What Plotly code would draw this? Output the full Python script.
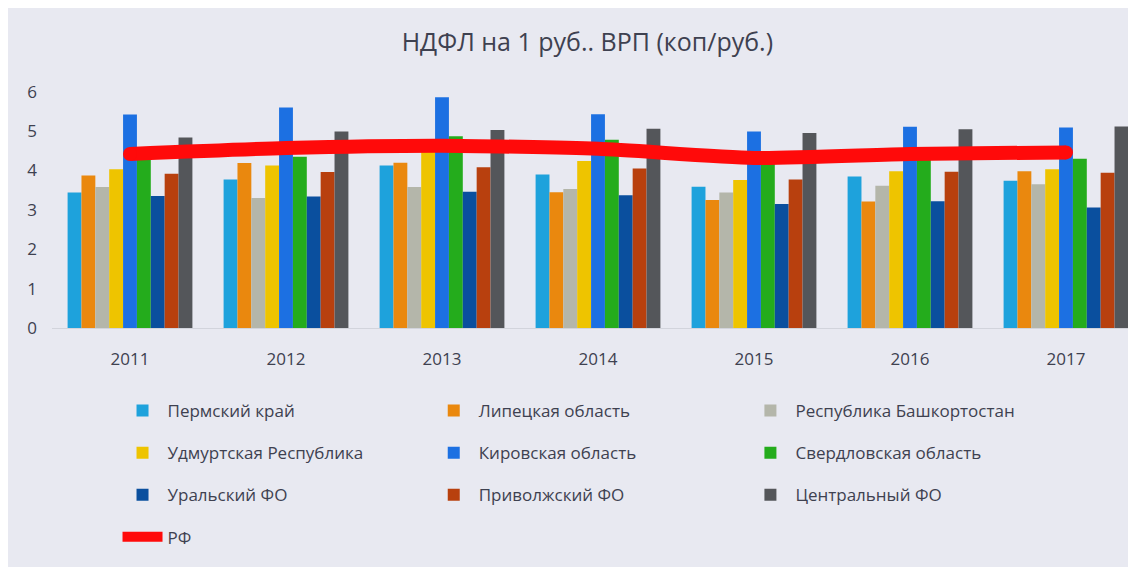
import plotly.graph_objects as go

# НДФЛ на 1 руб. ВРП, коп/руб.
years = ['2011', '2012', '2013', '2014', '2015', '2016', '2017']

perm = [3.44, 3.77, 4.13, 3.90, 3.59, 3.85, 3.74]
lipetsk = [3.87, 4.19, 4.20, 3.45, 3.25, 3.21, 3.98]
bashkort = [3.58, 3.30, 3.58, 3.53, 3.44, 3.61, 3.65]
udmurt = [4.03, 4.13, 4.75, 4.24, 3.76, 3.98, 4.03]
kirov = [5.42, 5.60, 5.86, 5.43, 4.99, 5.11, 5.09]
sverdl = [4.30, 4.35, 4.87, 4.78, 4.20, 4.30, 4.30]
ural = [3.35, 3.34, 3.46, 3.37, 3.15, 3.22, 3.06]
privolzh = [3.92, 3.96, 4.08, 4.05, 3.77, 3.97, 3.94]
central = [4.84, 4.99, 5.03, 5.06, 4.95, 5.05, 5.12]
rf = [4.42, 4.57, 4.63, 4.55, 4.32, 4.42, 4.46]

bars = [
    ('Пермский край', perm, '#1ea2dc', 'legend'),
    ('Липецкая область', lipetsk, '#ea880e', 'legend2'),
    ('Республика Башкортостан', bashkort, '#b4b6aa', 'legend3'),
    ('Удмуртская Республика', udmurt, '#eec400', 'legend'),
    ('Кировская область', kirov, '#1c70e2', 'legend2'),
    ('Свердловская область', sverdl, '#24ac1c', 'legend3'),
    ('Уральский ФО', ural, '#0a4f9e', 'legend'),
    ('Приволжский ФО', privolzh, '#b8400e', 'legend2'),
    ('Центральный ФО', central, '#54565a', 'legend3'),
]

fig = go.Figure()
for name, vals, color, leg in bars:
    fig.add_trace(go.Bar(x=years, y=vals, name=name, marker_color=color,
                         marker_line_width=0, legend=leg, legendgroup=name))

# РФ - толстая красная линия
fig.add_trace(go.Scatter(x=years, y=rf, name='РФ', mode='lines',
                         line=dict(color='#ff0a0a', width=14, shape='spline', smoothing=0.6),
                         legend='legend', legendgroup='РФ'))
# скругленные концы линии
fig.add_trace(go.Scatter(x=[years[0], years[-1]], y=[rf[0], rf[-1]], mode='markers',
                         marker=dict(color='#ff0a0a', size=14), showlegend=False,
                         hoverinfo='skip'))

bg = '#e8e9f1'
txt = '#3e4150'
legend_style = dict(orientation='v', font=dict(size=17, color=txt),
                    tracegroupgap=17, bgcolor='rgba(0,0,0,0)', itemwidth=40,
                    yanchor='top', xanchor='left', traceorder='grouped')

fig.update_layout(
    width=1136, height=567,
    paper_bgcolor=bg, plot_bgcolor=bg,
    font=dict(family='Open Sans, sans-serif', color=txt),
    title=dict(text='НДФЛ на 1 руб.. ВРП (коп/руб.)', x=0.51, xanchor='center',
               y=0.94, yanchor='middle', font=dict(size=25, color=txt)),
    barmode='group', bargap=0.2, bargroupgap=0,
    margin=dict(l=44, r=0, t=68, b=247),
    xaxis=dict(showgrid=False, showline=True, linecolor='#d2d4dc', linewidth=1,
               tickfont=dict(size=17, color=txt), ticks='', ticklabelstandoff=16),
    yaxis=dict(range=[0, 6.4], tickvals=[0, 1, 2, 3, 4, 5, 6], showgrid=False,
               zeroline=False, tickfont=dict(size=17, color=txt), ticklabelstandoff=14),
    legend=dict(x=0.06, y=-0.258, **legend_style),
    legend2=dict(x=0.345, y=-0.258, **legend_style),
    legend3=dict(x=0.635, y=-0.258, **legend_style),
)

fig.write_html('out.html')
